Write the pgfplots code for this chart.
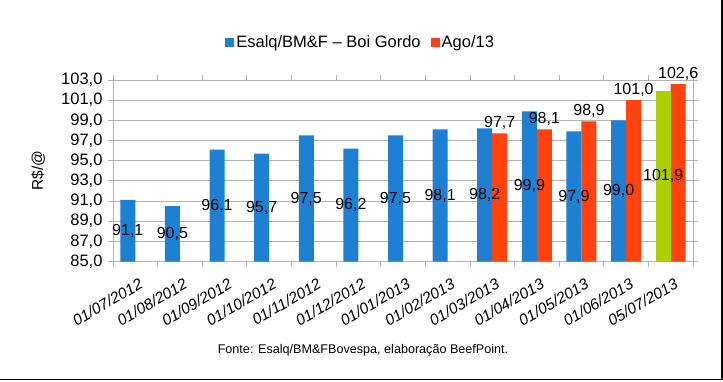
\documentclass[border=0pt]{standalone}
\usepackage{fontspec}
\setmainfont{Liberation Sans}
\usepackage{pgfplots}
\pgfplotsset{compat=1.18}
\definecolor{cblue}{RGB}{30,128,210}
\definecolor{cred}{RGB}{255,66,14}
\definecolor{cgreen}{RGB}{174,207,0}
\definecolor{cgrid}{RGB}{179,179,179}
\begin{document}
\begin{tikzpicture}
\useasboundingbox (0,0) rectangle (723pt,381pt);
\begin{axis}[
  at={(113pt,119.5pt)}, anchor=south west,
  scale only axis, width=580pt, height=181.5pt,
  xmin=-0.5, xmax=12.5, ymin=85, ymax=103,
  clip=false,
  ybar, bar width=15pt,
  ytick={85,87,89,91,93,95,97,99,101,103},
  xtick={0,1,2,3,4,5,6,7,8,9,10,11,12},
  xticklabels={01/07/2012,01/08/2012,01/09/2012,01/10/2012,01/11/2012,01/12/2012,01/01/2013,01/02/2013,01/03/2013,01/04/2013,01/05/2013,01/06/2013,05/07/2013},
  minor xtick={-0.5,0.5,1.5,2.5,3.5,4.5,5.5,6.5,7.5,8.5,9.5,10.5,11.5,12.5},
  tick align=outside,
  major tick length=5pt, minor tick length=5pt,
  major x tick style={draw=none},
  minor x tick style={cgrid, line width=0.8pt},
  ytick style={cgrid, line width=0.8pt},
  ymajorgrids, grid style={cgrid, line width=0.8pt},
  axis line style={cgrid, line width=0.8pt},
  /pgf/number format/use comma,
  /pgf/number format/fixed,
  /pgf/number format/fixed zerofill,
  /pgf/number format/precision=1,
  /pgf/number format/assume math mode=true,
  yticklabel style={font=\fontsize{16.5}{19}\selectfont, xshift=-2pt},
  xticklabel style={font=\fontsize{15.5}{18}\selectfont\itshape, rotate=30, anchor=north east, inner sep=1pt, yshift=-10pt, xshift=-2pt},
  ylabel={R\$/@},
  ylabel style={at={(axis description cs:-0.129,0.5)}, anchor=center, font=\fontsize{15.5}{18}\selectfont},
  legend style={at={(axis description cs:0.427,1.209)}, anchor=center, draw=none, fill=none,
    font=\fontsize{16.5}{19}\selectfont, legend columns=2,
    /tikz/every even column/.append style={column sep=8pt}},
  legend image code/.code={\fill[#1,draw=none] (0pt,-4.5pt) rectangle (9pt,4.5pt);},
  nodes near coords,
  every node near coord/.append style={font=\fontsize{16}{19}\selectfont, black},
]
\addplot[fill=cblue, draw=none, bar shift=-7.5pt,
  visualization depends on={rawy \as \rawy},
  every node near coord/.append style={anchor=center, shift={(axis direction cs:0,{-(\rawy-85)/2})}}]
  coordinates {(0,91.1) (1,90.5) (2,96.1) (3,95.7) (4,97.5) (5,96.2) (6,97.5) (7,98.1) (8,98.2) (9,99.9) (10,97.9) (11,99.0)};
\addlegendentry{Esalq/BM\&F – Boi Gordo}
\addplot[fill=cred, draw=none, bar shift=7.5pt]
  coordinates {(8,97.7) (9,98.1) (10,98.9) (11,101.0) (12,102.6)};
\addlegendentry{Ago/13}
\addplot[fill=cgreen, draw=none, bar shift=-7.5pt, forget plot,
  visualization depends on={rawy \as \rawy},
  every node near coord/.append style={anchor=center, shift={(axis direction cs:0,{-(\rawy-85)/2})}}]
  coordinates {(12,101.9)};
\end{axis}
\node[font=\fontsize{12.6}{15}\selectfont] at (363pt,31pt) {Fonte: Esalq/BM\&FBovespa, elaboração BeefPoint.};
\draw[black, line width=1.2pt] (722pt,381pt) -- (722pt,1.5pt) -- (0pt,1.5pt);
\end{tikzpicture}
\end{document}
